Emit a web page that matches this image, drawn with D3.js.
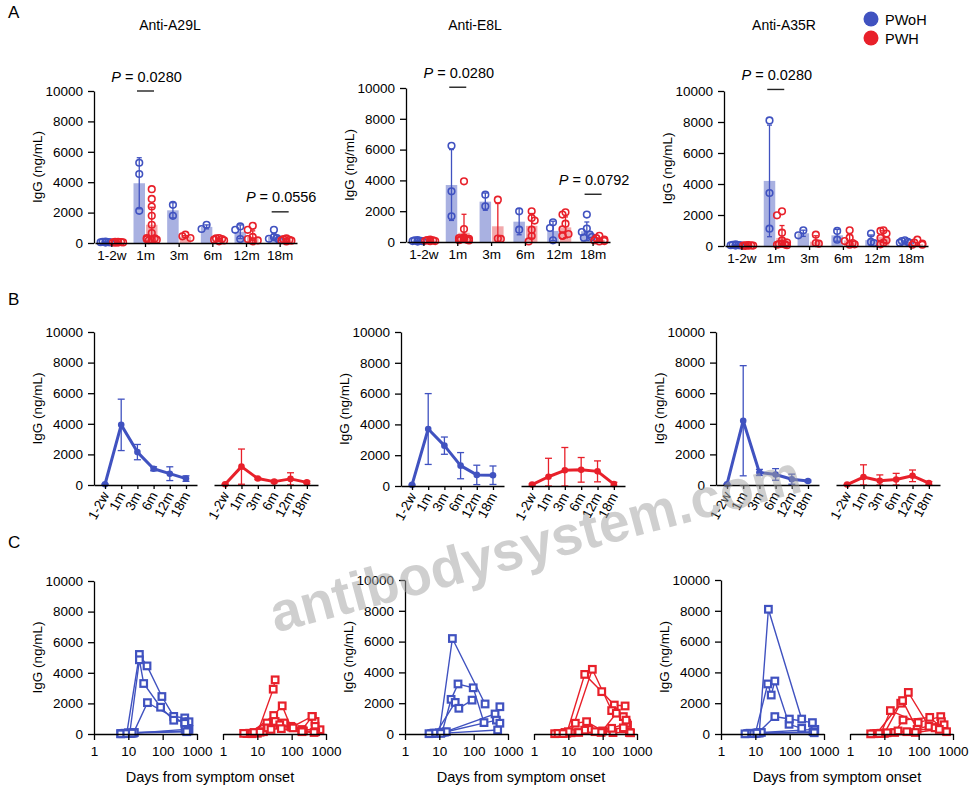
<!DOCTYPE html>
<html>
<head>
<meta charset="utf-8">
<script src="https://cdn.jsdelivr.net/npm/d3@7"></script>
<style>
  body { margin: 0; background: #fff; }
  svg text { font-family: "Liberation Sans", Arial, sans-serif; }
</style>
</head>
<body>
<svg id="fig" width="974" height="797"></svg>
<script>
// ---- data ----
const timepoints = ["1-2w", "1m", "3m", "6m", "12m", "18m"];
const antigens = ["Anti-A29L", "Anti-E8L", "Anti-A35R"];
const groups = ["PWoH", "PWH"];
const yTicks = [0, 2000, 4000, 6000, 8000, 10000];
const dayTicks = [1, 10, 100, 1000];

// individual values per time point (panel A)
const ptsA29L_PWoH = [[50, 80, 30, 60, 100, 40], [5280, 4540, 2120], [2510, 1790], [920, 1200], [1090, 870, 260], [870, 330, 280, 390, 220]];
const ptsA29L_PWH = [[50, 80, 30, 60, 40, 70, 20], [3540, 2900, 2400, 1790, 1200, 650, 330, 220, 200, 180, 250, 300], [330, 550, 440], [330, 260, 170, 220, 110, 300], [1130, 870, 400, 260, 170, 110], [300, 200, 150, 250, 100, 180]];
const ptsE8L_PWoH = [[100, 60, 30, 80, 50, 120], [6250, 3290, 1670], [3070, 2320], [1990, 800], [1280, 910, 110], [1780, 870, 650, 480, 320, 280]];
const ptsE8L_PWH = [[120, 80, 50, 150, 100, 60], [3940, 840, 300, 250, 200, 150, 120, 100, 200, 180], [2750, 220, 200], [1990, 1560, 1390, 800, 390, 40], [1930, 1780, 1190, 820, 520, 430, 390], [400, 250, 150, 100, 60, 40]];
const ptsA35R_PWoH = [[60, 40, 80, 30, 50, 100], [8100, 3420, 1120], [1010, 690], [970, 410], [800, 260, 190], [365, 320, 260, 215, 190]];
const ptsA35R_PWH = [[30, 20, 50, 40, 60, 10, 30], [2240, 1980, 860, 360, 220, 150, 100, 80, 50, 120], [730, 190, 150], [1010, 540, 320, 190, 110, 80], [1010, 970, 800, 515, 365, 215, 110], [410, 215, 150, 80, 80]];

// mean and SD (bars in A, lines in B)
const meanA29L_PWoH = [50, 3930, 2150, 1060, 740, 420];
const sdA29L_PWoH = [30, 1680, 500, 130, 450, 180];
const meanA29L_PWH = [50, 1200, 420, 220, 400, 170];
const sdA29L_PWH = [25, 1150, 60, 80, 400, 80];
const meanE8L_PWoH = [70, 3700, 2620, 1320, 720, 700];
const sdE8L_PWoH = [40, 2300, 560, 850, 630, 600];
const meanE8L_PWH = [90, 600, 1020, 1050, 950, 120];
const sdE8L_PWH = [50, 1200, 1480, 800, 680, 120];
const meanA35R_PWoH = [50, 4200, 820, 690, 380, 260];
const sdA35R_PWoH = [30, 3600, 200, 380, 330, 60];
const meanA35R_PWH = [30, 520, 280, 360, 600, 120];
const sdA35R_PWH = [20, 800, 380, 400, 380, 100];

// P values: [time point, text, height of bracket in ng/mL]
const pA29L = [["1m", "0.0280", 10000], ["18m", "0.0556", 2050]];
const pE8L = [["1m", "0.0280", 10050], ["18m", "0.0792", 3100]];
const pA35R = [["1m", "0.0280", 10100]];

// individual trajectories, [day, IgG] (panel C)
const cA29L_PWoH = [
  [[9, 40], [21, 5200], [35, 4450], [95, 2450], [210, 1150], [440, 1050], [585, 800]],
  [[11, 50], [21, 4850], [28, 3300], [87, 1750], [210, 900], [440, 800], [585, 300]],
  [[14, 60], [36, 2050], [440, 700]],
  [[6, 30], [8, 50], [12, 40], [450, 300]],
  [[7, 20], [10, 80], [15, 100], [550, 200]],
  [[6, 10], [9, 30], [13, 60], [500, 150]]
];
const cA29L_PWH = [
  [[10, 50], [29, 2930], [33, 3540]],
  [[5, 30], [19, 720], [53, 1840], [93, 500], [200, 280], [400, 1150], [480, 820]],
  [[6, 50], [30, 1210], [60, 720], [200, 280], [670, 280]],
  [[4, 40], [15, 150], [33, 820], [100, 450], [390, 1150], [480, 500]],
  [[7, 20], [20, 400], [45, 600], [110, 400], [220, 200], [500, 150]],
  [[8, 100], [12, 120], [25, 300], [50, 350], [200, 150], [450, 100]]
];
const cE8L_PWoH = [
  [[10, 80], [24, 6200], [215, 1950]],
  [[12, 100], [22, 2250], [35, 3250], [97, 3000], [200, 740]],
  [[8, 50], [29, 2050], [37, 1670], [90, 2200]],
  [[6, 30], [14, 120], [420, 1300], [580, 1770]],
  [[7, 60], [16, 150], [460, 900], [580, 700]],
  [[5, 20], [11, 40], [500, 260]]
];
const cE8L_PWH = [
  [[9, 50], [30, 3870], [94, 2750], [218, 1880], [450, 1820]],
  [[12, 80], [50, 4200], [183, 1520], [400, 1130], [530, 580]],
  [[6, 30], [16, 700], [34, 800], [100, 200], [200, 90], [600, 100]],
  [[4, 20], [8, 100], [40, 300], [183, 370], [500, 700]],
  [[5, 40], [10, 150], [30, 250], [90, 100], [250, 1350], [480, 900]],
  [[7, 30], [20, 100], [60, 150], [400, 400], [650, 80]]
];
const cA35R_PWoH = [
  [[13, 60], [24, 8100], [224, 970]],
  [[10, 40], [23, 3250], [29, 2530], [37, 3440], [96, 630], [224, 370]],
  [[12, 80], [37, 1130], [98, 970], [460, 740]],
  [[6, 30], [15, 100], [540, 300]],
  [[7, 50], [9, 20], [480, 150]],
  [[5, 10], [11, 60], [520, 80]]
];
const cA35R_PWH = [
  [[8, 50], [15, 1520], [97, 740], [440, 1130]],
  [[10, 40], [30, 2000], [50, 2700], [200, 500], [500, 480]],
  [[6, 30], [34, 2170], [90, 300], [460, 800]],
  [[5, 20], [20, 100], [35, 910], [210, 1080], [650, 150]],
  [[4, 10], [12, 80], [45, 150], [300, 400], [550, 600]],
  [[7, 30], [25, 200], [80, 100], [400, 300]]
];

const ptsData = [[ptsA29L_PWoH, ptsA29L_PWH], [ptsE8L_PWoH, ptsE8L_PWH], [ptsA35R_PWoH, ptsA35R_PWH]];
const meanData = [[meanA29L_PWoH, meanA29L_PWH], [meanE8L_PWoH, meanE8L_PWH], [meanA35R_PWoH, meanA35R_PWH]];
const sdData = [[sdA29L_PWoH, sdA29L_PWH], [sdE8L_PWoH, sdE8L_PWH], [sdA35R_PWoH, sdA35R_PWH]];
const pData = [pA29L, pE8L, pA35R];
const cData = [[cA29L_PWoH, cA29L_PWH], [cE8L_PWoH, cE8L_PWH], [cA35R_PWoH, cA35R_PWH]];

// ---- layout ----
const color = ["#4052c0", "#e8202a"];
const lightColor = ["#a9b1e1", "#f2a9ac"];
const layoutA = [
  { x0: 94, x1: 297, yt: 91, yb: 243, title: 170 },
  { x0: 406, x1: 610, yt: 88, yb: 242, title: 475 },
  { x0: 724, x1: 928, yt: 91, yb: 246, title: 784 }
];
const layoutB = [{ x0: 94, yt: 332, yb: 485 }, { x0: 401, yt: 332, yb: 486 }, { x0: 716, yt: 332, yb: 485 }];
const layoutC = [{ x0: 94, yt: 581, yb: 734 }, { x0: 405, yt: 580, yb: 734 }, { x0: 721, yt: 580, yb: 734 }];

const svg = d3.select("#fig");

function styleAxis(g) {
  g.attr("font-family", null).attr("font-size", null);
  g.select(".domain").attr("stroke", "#000").attr("stroke-width", 1.3);
  g.selectAll(".tick line").attr("stroke", "#000").attr("stroke-width", 1.3);
  g.selectAll(".tick text").attr("fill", "#000").style("font-size", "13.5px");
}

function drawYAxis(y, L) {
  svg.append("g")
    .attr("transform", `translate(${L.x0},0)`)
    .call(d3.axisLeft(y).tickValues(yTicks).tickFormat(d3.format("d"))
      .tickSize(6).tickPadding(5).tickSizeOuter(0))
    .call(styleAxis);
  svg.append("text")
    .attr("transform", `translate(${L.x0 - 52},${(L.yt + L.yb) / 2}) rotate(-90)`)
    .attr("text-anchor", "middle")
    .style("font-size", "13.5px")
    .text("IgG (ng/mL)");
}

// simple beeswarm so overlapping circles spread sideways
function swarm(vals, y, cx, half) {
  const placed = [];
  const offs = [0, -3, 3, -5, 5];
  vals.map(v => ({ v, y: y(v) })).sort((a, b) => b.v - a.v).forEach(p => {
    let o = offs.find(o => Math.abs(o) <= half &&
      placed.every(q => Math.hypot(q.x - (cx + o), q.y - p.y) >= 6));
    if (o === undefined) o = offs[placed.length % offs.length];
    p.x = cx + o;
    placed.push(p);
  });
  return placed;
}

function errorBars(g, xs, lo, hi, col, cap) {
  const d = xs.map((x, k) => ({ x, lo: lo[k], hi: hi[k] }));
  g.selectAll(null).data(d).join("line")
    .attr("x1", d => d.x).attr("x2", d => d.x)
    .attr("y1", d => d.lo).attr("y2", d => d.hi)
    .attr("stroke", col).attr("stroke-width", 1.3);
  [d => d.lo, d => d.hi].forEach(f => {
    g.selectAll(null).data(d).join("line")
      .attr("x1", d => d.x - cap / 2).attr("x2", d => d.x + cap / 2)
      .attr("y1", f).attr("y2", f)
      .attr("stroke", col).attr("stroke-width", 1.3);
  });
}

// ---- panel A: bars + points ----
function drawA(i) {
  const L = layoutA[i];
  const x = d3.scaleBand().domain(timepoints).range([L.x0 + 1, L.x1]);
  const y = d3.scaleLinear().domain([0, 10000]).range([L.yb, L.yt]);
  const g = svg.append("g");
  const bw = 11.5;

  groups.forEach((gname, gi) => {
    const mean = meanData[i][gi], sd = sdData[i][gi], pts = ptsData[i][gi];
    const cx = t => x(t) + x.bandwidth() / 2 + (gi === 0 ? -6.25 : 6.25);
    g.selectAll(null).data(timepoints).join("rect")
      .attr("x", t => cx(t) - bw / 2)
      .attr("width", bw)
      .attr("y", (t, k) => y(mean[k]))
      .attr("height", (t, k) => L.yb - y(mean[k]))
      .attr("fill", lightColor[gi]);
    errorBars(g, timepoints.map(cx),
      mean.map((m, k) => y(Math.max(0, m - sd[k]))),
      mean.map((m, k) => y(m + sd[k])), color[gi], 5);
    timepoints.forEach((t, k) => {
      g.selectAll(null).data(swarm(pts[k], y, cx(t), 5)).join("circle")
        .attr("cx", d => d.x).attr("cy", d => d.y).attr("r", 3.3)
        .attr("fill", "none").attr("stroke", color[gi]).attr("stroke-width", 1.6);
    });
  });

  svg.append("g")
    .attr("transform", `translate(0,${L.yb})`)
    .call(d3.axisBottom(x).tickSize(4).tickPadding(3).tickSizeOuter(0))
    .call(styleAxis);
  drawYAxis(y, L);

  pData[i].forEach(([t, txt, v]) => {
    const cx = x(t) + x.bandwidth() / 2;
    svg.append("line")
      .attr("x1", cx - 8.5).attr("x2", cx + 8.5)
      .attr("y1", y(v)).attr("y2", y(v))
      .attr("stroke", "#222").attr("stroke-width", 1.4);
    const tx = svg.append("text")
      .attr("x", cx + 1).attr("y", y(v) - 9.5)
      .attr("text-anchor", "middle").style("font-size", "14.5px");
    tx.append("tspan").style("font-style", "italic").text("P");
    tx.append("tspan").text(" = " + txt);
  });

  svg.append("text")
    .attr("x", L.title).attr("y", 30)
    .attr("text-anchor", "middle").style("font-size", "14px")
    .text(antigens[i]);
}

// ---- panel B: mean ± SD lines ----
function drawB(i) {
  const L = layoutB[i];
  const y = d3.scaleLinear().domain([0, 10000]).range([L.yb, L.yt]);
  groups.forEach((gname, gi) => {
    const mean = meanData[i][gi], sd = sdData[i][gi];
    const x = d3.scalePoint().domain(timepoints)
      .range(gi === 0 ? [L.x0, L.x0 + 103] : [L.x0 + 120, L.x0 + 224]).padding(0.68);
    const g = svg.append("g");
    errorBars(g, timepoints.map(t => x(t)),
      mean.map((m, k) => y(Math.max(0, m - sd[k]))),
      mean.map((m, k) => y(m + sd[k])), color[gi], 7);
    g.append("path")
      .datum(mean)
      .attr("d", d3.line().x((m, k) => x(timepoints[k])).y(m => y(m)))
      .attr("fill", "none").attr("stroke", color[gi]).attr("stroke-width", 3)
      .attr("stroke-linejoin", "round");
    g.selectAll(null).data(mean).join("circle")
      .attr("cx", (m, k) => x(timepoints[k])).attr("cy", m => y(m)).attr("r", 3.3)
      .attr("fill", color[gi]);
    svg.append("g")
      .attr("transform", `translate(0,${L.yb})`)
      .call(d3.axisBottom(x).tickSize(4).tickSizeOuter(0))
      .call(styleAxis)
      .selectAll(".tick text")
      .attr("y", null).attr("dy", null)
      .attr("transform", "translate(4,10) rotate(-62)")
      .attr("text-anchor", "end");
  });
  drawYAxis(y, L);
}

// ---- panel C: individual kinetics ----
function drawC(i) {
  const L = layoutC[i];
  const y = d3.scaleLinear().domain([0, 10000]).range([L.yb, L.yt]);
  groups.forEach((gname, gi) => {
    const x = d3.scaleLog().domain([1, 1000])
      .range(gi === 0 ? [L.x0, L.x0 + 103] : [L.x0 + 129, L.x0 + 232]);
    const pats = cData[i][gi];
    const g = svg.append("g");
    const line = d3.line().x(d => x(d[0])).y(d => y(d[1]));
    g.selectAll(null).data(pats).join("path")
      .attr("d", line)
      .attr("fill", "none").attr("stroke", color[gi]).attr("stroke-width", 1.4);
    g.selectAll(null).data(pats.flat()).join("rect")
      .attr("x", d => x(d[0]) - 3.3).attr("y", d => y(d[1]) - 3.3)
      .attr("width", 6.6).attr("height", 6.6)
      .attr("fill", "#fff").attr("stroke", color[gi]).attr("stroke-width", 2.2);
    svg.append("g")
      .attr("transform", `translate(0,${L.yb})`)
      .call(d3.axisBottom(x).tickValues(dayTicks).tickFormat(d3.format("d"))
        .tickSize(6).tickPadding(6).tickSizeOuter(0))
      .call(styleAxis);
  });
  drawYAxis(y, L);
  svg.append("text")
    .attr("x", L.x0 + 116).attr("y", 782)
    .attr("text-anchor", "middle").style("font-size", "14.5px")
    .text("Days from symptom onset");
}

[0, 1, 2].forEach(i => { drawA(i); drawB(i); drawC(i); });

// panel letters
[["A", 18], ["B", 305], ["C", 548]].forEach(([t, yy]) => {
  svg.append("text").attr("x", 8).attr("y", yy).style("font-size", "17px").text(t);
});

// legend
groups.forEach((gname, gi) => {
  const cy = 19 + gi * 19;
  svg.append("circle").attr("cx", 871).attr("cy", cy).attr("r", 7.5).attr("fill", color[gi]);
  svg.append("text").attr("x", 885).attr("y", cy + 5.5).style("font-size", "14.5px").text(gname);
});

// watermark
svg.append("text")
  .attr("transform", "translate(540,562) rotate(-15)")
  .attr("text-anchor", "middle")
  .style("font-size", "55px").style("font-weight", "bold")
  .attr("fill", "#a0a0a0").attr("opacity", 0.5)
  .text("antibodysystem.com");
</script>
</body>
</html>
